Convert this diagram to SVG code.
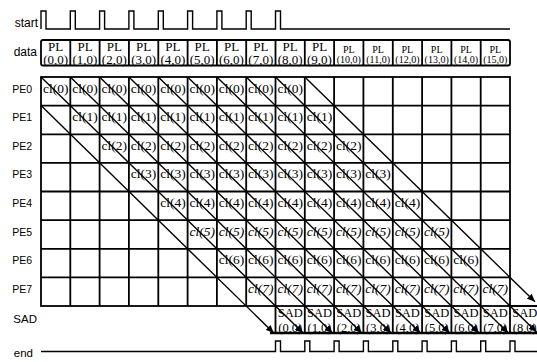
<svg xmlns="http://www.w3.org/2000/svg" width="537" height="362" viewBox="0 0 537 362">
<style>
.lbl{font-family:"Liberation Sans",Arial,sans-serif;fill:#000;text-anchor:end}
.ser{font-family:"Liberation Serif","Times New Roman",serif;fill:#000;text-anchor:middle}
.cl{font-size:13.5px}
.it{font-style:italic}
.pl{font-size:13px}
.pls{font-size:10px}
.sad{font-size:12.5px}
.ln{fill:none;stroke:#000;stroke-width:1.8}
.sig{fill:none;stroke:#000;stroke-width:1.4}
.dg{fill:none;stroke:#000;stroke-width:1.4;marker-end:url(#ah)}
</style>
<defs>
<marker id="ah" markerUnits="userSpaceOnUse" markerWidth="9" markerHeight="7" refX="8" refY="3.5" orient="auto">
<path d="M0,0 L8,3.5 L0,7 z" fill="#000"/>
</marker>
</defs>
<rect width="537" height="362" fill="#fff"/>

<g id="labels">
<text class="lbl" x="38" y="26.5" font-size="12">start</text>
<text class="lbl" x="37" y="55.5" font-size="12">data</text>
<text class="lbl" x="32" y="92.5" font-size="10.5">PE0</text>
<text class="lbl" x="32" y="121" font-size="10.5">PE1</text>
<text class="lbl" x="32" y="149.7" font-size="10.5">PE2</text>
<text class="lbl" x="32" y="178.3" font-size="10.5">PE3</text>
<text class="lbl" x="32" y="207" font-size="10.5">PE4</text>
<text class="lbl" x="32" y="235.6" font-size="10.5">PE5</text>
<text class="lbl" x="32" y="264.2" font-size="10.5">PE6</text>
<text class="lbl" x="32" y="292.8" font-size="10.5">PE7</text>
<text class="lbl" x="37" y="323" font-size="11.5">SAD</text>
<text class="lbl" x="33" y="357" font-size="11.5">end</text>
</g>

<g id="start-signal">
<path class="sig" d="M41,29 V11 H46 V29 H70.3 V11 H75.3 V29 H99.6 V11 H104.6 V29 H128.9 V11 H133.9 V29 H158.3 V11 H163.3 V29 H187.6 V11 H192.6 V29 H216.9 V11 H221.9 V29 H246.2 V11 H251.2 V29 H275.5 V11 H280.5 V29 H510"/>
</g>

<g id="end-signal">
<path class="sig" d="M41,351.5 H275.5 V341 H280.5 V351.5 H304.8 V341 H309.8 V351.5 H334.1 V341 H339.1 V351.5 H363.4 V341 H368.4 V351.5 H392.8 V341 H397.8 V351.5 H422.1 V341 H427.1 V351.5 H451.4 V341 H456.4 V351.5 H480.7 V341 H485.7 V351.5 H510 V341 H515 V351.5 H537"/>
</g>

<g id="data">
<rect class="ln" x="41" y="40" width="469" height="25.5" rx="2" stroke-width="1.5"/>
<path class="ln" stroke-width="1.5" d="M70.3,40V65.5 M99.6,40V65.5 M128.9,40V65.5 M158.3,40V65.5 M187.6,40V65.5 M216.9,40V65.5 M246.2,40V65.5 M275.5,40V65.5 M304.8,40V65.5 M334.1,40V65.5 M363.4,40V65.5 M392.8,40V65.5 M422.1,40V65.5 M451.4,40V65.5 M480.7,40V65.5"/>
<g id="pl0"><text class="ser pl" x="55.7" y="50.5">PL</text><text class="ser pl" x="55.7" y="64">(0,0)</text></g>
<g id="pl1"><text class="ser pl" x="85" y="50.5">PL</text><text class="ser pl" x="85" y="64">(1,0)</text></g>
<g id="pl2"><text class="ser pl" x="114.3" y="50.5">PL</text><text class="ser pl" x="114.3" y="64">(2,0)</text></g>
<g id="pl3"><text class="ser pl" x="143.6" y="50.5">PL</text><text class="ser pl" x="143.6" y="64">(3,0)</text></g>
<g id="pl4"><text class="ser pl" x="172.9" y="50.5">PL</text><text class="ser pl" x="172.9" y="64">(4,0)</text></g>
<g id="pl5"><text class="ser pl" x="202.2" y="50.5">PL</text><text class="ser pl" x="202.2" y="64">(5,0)</text></g>
<g id="pl6"><text class="ser pl" x="231.5" y="50.5">PL</text><text class="ser pl" x="231.5" y="64">(6,0)</text></g>
<g id="pl7"><text class="ser pl" x="260.8" y="50.5">PL</text><text class="ser pl" x="260.8" y="64">(7,0)</text></g>
<g id="pl8"><text class="ser pl" x="290.2" y="50.5">PL</text><text class="ser pl" x="290.2" y="64">(8,0)</text></g>
<g id="pl9"><text class="ser pl" x="319.5" y="50.5">PL</text><text class="ser pl" x="319.5" y="64">(9,0)</text></g>
<g id="pl10"><text class="ser pls" x="348.8" y="53">PL</text><text class="ser pls" x="348.8" y="63">(10,0)</text></g>
<g id="pl11"><text class="ser pls" x="378.1" y="53">PL</text><text class="ser pls" x="378.1" y="63">(11,0)</text></g>
<g id="pl12"><text class="ser pls" x="407.4" y="53">PL</text><text class="ser pls" x="407.4" y="63">(12,0)</text></g>
<g id="pl13"><text class="ser pls" x="436.7" y="53">PL</text><text class="ser pls" x="436.7" y="63">(13,0)</text></g>
<g id="pl14"><text class="ser pls" x="466" y="53">PL</text><text class="ser pls" x="466" y="63">(14,0)</text></g>
<g id="pl15"><text class="ser pls" x="495.3" y="53">PL</text><text class="ser pls" x="495.3" y="63">(15,0)</text></g>
</g>

<g id="grid">
<rect class="ln" x="41" y="77" width="469" height="229"/>
<path class="ln" d="M70.3,77V306 M99.6,77V306 M128.9,77V306 M158.3,77V306 M187.6,77V306 M216.9,77V306 M246.2,77V306 M275.5,77V306 M304.8,77V306 M334.1,77V306 M363.4,77V306 M392.8,77V306 M422.1,77V306 M451.4,77V306 M480.7,77V306
M41,105.6H510 M41,134.3H510 M41,162.9H510 M41,191.5H510 M41,220.1H510 M41,248.8H510 M41,277.4H510"/>
</g>

<g id="connectors">
<path class="dg" d="M41,105.6 L273.8,333"/>
<path class="dg" d="M41,77 L303.1,333"/>
<path class="dg" d="M70.3,77 L332.5,333"/>
<path class="dg" d="M99.6,77 L361.8,333"/>
<path class="dg" d="M128.9,77 L391.1,333"/>
<path class="dg" d="M158.3,77 L420.4,333"/>
<path class="dg" d="M187.6,77 L449.7,333"/>
<path class="dg" d="M216.9,77 L479,333"/>
<path class="dg" d="M246.2,77 L508.3,333"/>
<path class="dg" d="M275.5,77 L536.5,331.9"/>
<path class="dg" d="M304.8,77 L535,301.8"/>
</g>

<g id="row0" class="ser cl">
<text x="55.7" y="92.5">cl(0)</text><text x="85" y="92.5">cl(0)</text><text x="114.3" y="92.5">cl(0)</text><text x="143.6" y="92.5">cl(0)</text><text x="172.9" y="92.5">cl(0)</text><text x="202.2" y="92.5">cl(0)</text><text x="231.5" y="92.5">cl(0)</text><text x="260.8" y="92.5">cl(0)</text><text x="290.2" y="92.5">cl(0)</text>
</g>
<g id="row1" class="ser cl">
<text x="85" y="121.1">cl(1)</text><text x="114.3" y="121.1">cl(1)</text><text x="143.6" y="121.1">cl(1)</text><text x="172.9" y="121.1">cl(1)</text><text x="202.2" y="121.1">cl(1)</text><text x="231.5" y="121.1">cl(1)</text><text x="260.8" y="121.1">cl(1)</text><text x="290.2" y="121.1">cl(1)</text><text x="319.5" y="121.1">cl(1)</text>
</g>
<g id="row2" class="ser cl">
<text x="114.3" y="149.8">cl(2)</text><text x="143.6" y="149.8">cl(2)</text><text x="172.9" y="149.8">cl(2)</text><text x="202.2" y="149.8">cl(2)</text><text x="231.5" y="149.8">cl(2)</text><text x="260.8" y="149.8">cl(2)</text><text x="290.2" y="149.8">cl(2)</text><text x="319.5" y="149.8">cl(2)</text><text x="348.8" y="149.8">cl(2)</text>
</g>
<g id="row3" class="ser cl">
<text x="143.6" y="178.4">cl(3)</text><text x="172.9" y="178.4">cl(3)</text><text x="202.2" y="178.4">cl(3)</text><text x="231.5" y="178.4">cl(3)</text><text x="260.8" y="178.4">cl(3)</text><text x="290.2" y="178.4">cl(3)</text><text x="319.5" y="178.4">cl(3)</text><text x="348.8" y="178.4">cl(3)</text><text x="378.1" y="178.4">cl(3)</text>
</g>
<g id="row4" class="ser cl">
<text x="172.9" y="207">cl(4)</text><text x="202.2" y="207">cl(4)</text><text x="231.5" y="207">cl(4)</text><text x="260.8" y="207">cl(4)</text><text x="290.2" y="207">cl(4)</text><text x="319.5" y="207">cl(4)</text><text x="348.8" y="207">cl(4)</text><text x="378.1" y="207">cl(4)</text><text x="407.4" y="207">cl(4)</text>
</g>
<g id="row5" class="ser cl it">
<text x="202.2" y="235.6">cl(5)</text><text x="231.5" y="235.6">cl(5)</text><text x="260.8" y="235.6">cl(5)</text><text x="290.2" y="235.6">cl(5)</text><text x="319.5" y="235.6">cl(5)</text><text x="348.8" y="235.6">cl(5)</text><text x="378.1" y="235.6">cl(5)</text><text x="407.4" y="235.6">cl(5)</text><text x="436.7" y="235.6">cl(5)</text>
</g>
<g id="row6" class="ser cl">
<text x="231.5" y="264.3">cl(6)</text><text x="260.8" y="264.3">cl(6)</text><text x="290.2" y="264.3">cl(6)</text><text x="319.5" y="264.3">cl(6)</text><text x="348.8" y="264.3">cl(6)</text><text x="378.1" y="264.3">cl(6)</text><text x="407.4" y="264.3">cl(6)</text><text x="436.7" y="264.3">cl(6)</text><text x="466" y="264.3">cl(6)</text>
</g>
<g id="row7" class="ser cl it">
<text x="260.8" y="292.9">cl(7)</text><text x="290.2" y="292.9">cl(7)</text><text x="319.5" y="292.9">cl(7)</text><text x="348.8" y="292.9">cl(7)</text><text x="378.1" y="292.9">cl(7)</text><text x="407.4" y="292.9">cl(7)</text><text x="436.7" y="292.9">cl(7)</text><text x="466" y="292.9">cl(7)</text><text x="495.3" y="292.9">cl(7)</text>
</g>

<g id="sad">
<path class="ln" d="M275.5,306V333 M304.8,306V333 M334.1,306V333 M363.4,306V333 M392.8,306V333 M422.1,306V333 M451.4,306V333 M480.7,306V333 M510,306V333 M510,306H537"/>
<path fill="none" stroke="#000" stroke-width="2.4" d="M270,333H537"/>
<g id="sad0"><text class="ser sad" x="290.2" y="317">SAD</text><text class="ser sad" x="290.2" y="331.5">(0,0)</text></g>
<g id="sad1"><text class="ser sad" x="319.5" y="317">SAD</text><text class="ser sad" x="319.5" y="331.5">(1,0)</text></g>
<g id="sad2"><text class="ser sad" x="348.8" y="317">SAD</text><text class="ser sad" x="348.8" y="331.5">(2,0)</text></g>
<g id="sad3"><text class="ser sad" x="378.1" y="317">SAD</text><text class="ser sad" x="378.1" y="331.5">(3,0)</text></g>
<g id="sad4"><text class="ser sad" x="407.4" y="317">SAD</text><text class="ser sad" x="407.4" y="331.5">(4,0)</text></g>
<g id="sad5"><text class="ser sad" x="436.7" y="317">SAD</text><text class="ser sad" x="436.7" y="331.5">(5,0)</text></g>
<g id="sad6"><text class="ser sad" x="466" y="317">SAD</text><text class="ser sad" x="466" y="331.5">(6,0)</text></g>
<g id="sad7"><text class="ser sad" x="495.3" y="317">SAD</text><text class="ser sad" x="495.3" y="331.5">(7,0)</text></g>
<g id="sad8"><text class="ser sad" x="524.7" y="317">SAD</text><text class="ser sad" x="524.7" y="331.5">(8,0)</text></g>
</g>
</svg>
